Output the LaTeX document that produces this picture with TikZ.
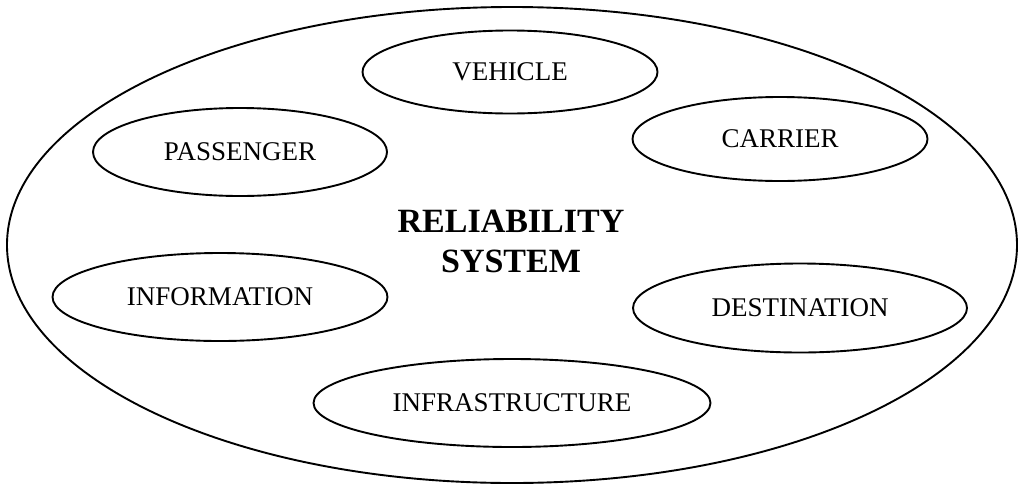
\documentclass[tikz,border=0pt]{standalone}
\usepackage{fontspec}
\setmainfont{Liberation Serif}
\usetikzlibrary{shapes.geometric}
\tikzset{
        part/.style={draw, ellipse, line width=1.9pt, inner sep=0pt,
                font=\fontsize{27}{32}\selectfont},
}

\begin{document}
\begin{tikzpicture}[x=1pt, y=-1pt]
        \useasboundingbox (0,0) rectangle (1024,490);
        \node (sys) [part, minimum width=1010pt, minimum height=476pt] at (512, 245) {};
        \node (title) [align=center, font=\fontsize{34}{40}\selectfont\bfseries] at (511, 241) {RELIABILITY\\SYSTEM};
        \node (v1) [part, minimum width=295pt, minimum height=83pt] at (510, 72) {VEHICLE};
        \node (v2) [part, minimum width=295pt, minimum height=84pt] at (780, 139) {CARRIER};
        \node (v3) [part, minimum width=294pt, minimum height=88pt] at (240, 152) {PASSENGER};
        \node (v4) [part, minimum width=335pt, minimum height=88pt] at (220, 297) {INFORMATION};
        \node (v5) [part, minimum width=334pt, minimum height=89pt] at (800, 308) {DESTINATION};
        \node (v6) [part, minimum width=397pt, minimum height=88pt] at (512, 403) {INFRASTRUCTURE};
\end{tikzpicture}
\end{document}
